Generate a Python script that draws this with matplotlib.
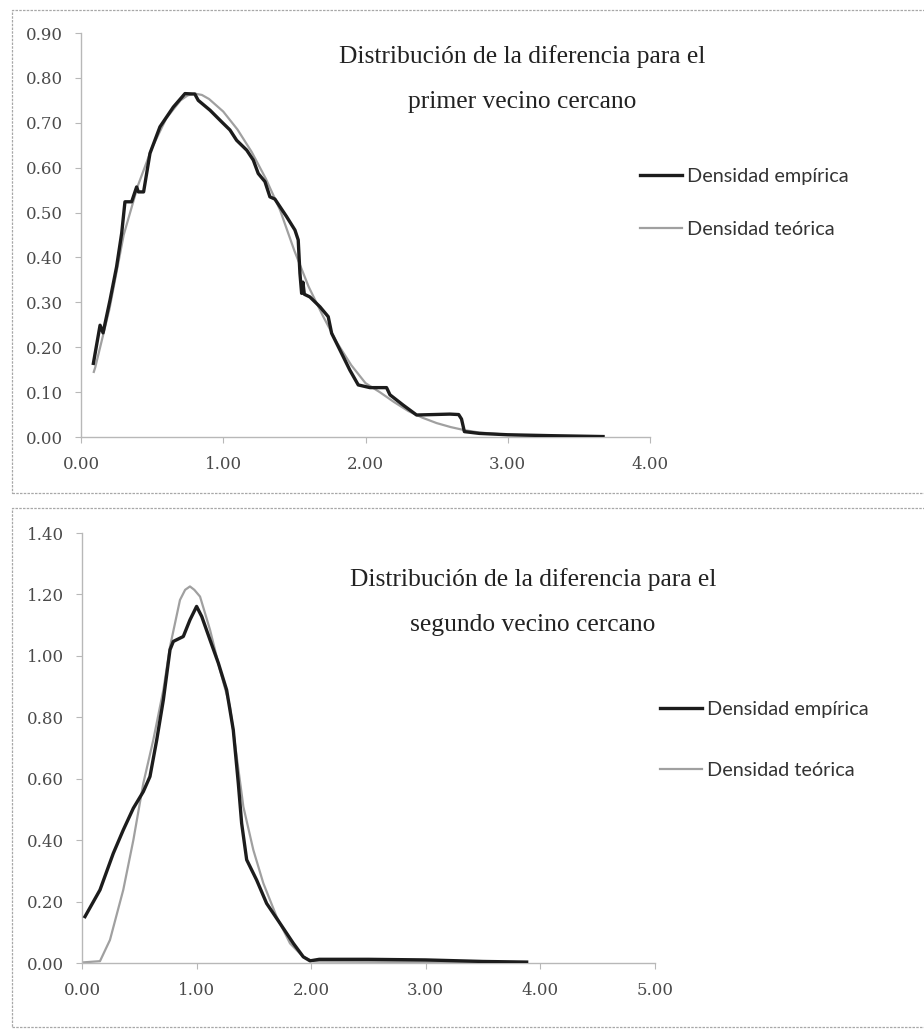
import matplotlib
matplotlib.use("Agg")
import matplotlib.pyplot as plt
from matplotlib.patches import Rectangle

# ---- first nearest neighbour: difference distribution ----
emp1_x = [0.087, 0.134, 0.155, 0.204, 0.250, 0.286, 0.309, 0.356, 0.391, 0.403,
          0.440, 0.485, 0.555, 0.649, 0.731, 0.800, 0.824, 0.907, 0.989, 1.047,
          1.094, 1.165, 1.211, 1.246, 1.293, 1.328, 1.363, 1.445, 1.504, 1.527,
          1.539, 1.551, 1.560, 1.570, 1.609, 1.680, 1.738, 1.762, 1.820, 1.890,
          1.949, 2.031, 2.100, 2.148, 2.172, 2.265, 2.359, 2.477, 2.593, 2.655,
          2.675, 2.695, 2.800, 3.000, 3.300, 3.670]
emp1_y = [0.164, 0.249, 0.232, 0.305, 0.379, 0.454, 0.524, 0.524, 0.557, 0.546,
          0.546, 0.632, 0.691, 0.735, 0.765, 0.764, 0.750, 0.728, 0.702, 0.684,
          0.661, 0.639, 0.617, 0.587, 0.569, 0.535, 0.530, 0.491, 0.461, 0.439,
          0.365, 0.320, 0.345, 0.318, 0.312, 0.290, 0.268, 0.231, 0.194, 0.149,
          0.116, 0.110, 0.110, 0.110, 0.094, 0.071, 0.049, 0.050, 0.051, 0.050,
          0.040, 0.012, 0.008, 0.005, 0.003, 0.001]

teo1_x = [0.09, 0.10, 0.20, 0.30, 0.40, 0.50, 0.60, 0.70, 0.75, 0.80, 0.85,
          0.90, 1.00, 1.10, 1.20, 1.30, 1.40, 1.50, 1.60, 1.70, 1.80, 1.90,
          2.00, 2.10, 2.20, 2.30, 2.40, 2.50, 2.60, 2.70, 2.80, 3.00, 3.30, 3.67]
teo1_y = [0.145, 0.155, 0.285, 0.450, 0.560, 0.645, 0.710, 0.750, 0.761, 0.765,
          0.762, 0.753, 0.725, 0.685, 0.635, 0.575, 0.505, 0.415, 0.335, 0.270,
          0.210, 0.160, 0.120, 0.100, 0.078, 0.058, 0.043, 0.031, 0.022, 0.015,
          0.010, 0.005, 0.002, 0.001]

# ---- second nearest neighbour: difference distribution ----
emp2_x = [0.026, 0.157, 0.273, 0.360, 0.448, 0.535, 0.593, 0.652, 0.710, 0.768,
          0.797, 0.884, 0.942, 1.000, 1.045, 1.117, 1.190, 1.262, 1.320, 1.364,
          1.393, 1.437, 1.524, 1.611, 1.728, 1.844, 1.931, 1.990, 2.070, 2.500,
          3.000, 3.500, 3.880]
emp2_y = [0.151, 0.238, 0.357, 0.433, 0.504, 0.558, 0.607, 0.726, 0.857, 1.020,
          1.047, 1.063, 1.117, 1.161, 1.128, 1.052, 0.976, 0.889, 0.759, 0.585,
          0.455, 0.336, 0.270, 0.194, 0.129, 0.064, 0.020, 0.007, 0.012, 0.012,
          0.010, 0.005, 0.003]

teo2_x = [0.010, 0.157, 0.244, 0.360, 0.448, 0.535, 0.622, 0.710, 0.768, 0.855,
          0.900, 0.942, 0.980, 1.030, 1.117, 1.204, 1.291, 1.350, 1.408, 1.495,
          1.582, 1.698, 1.815, 1.931, 2.020, 2.500, 3.000, 3.880]
teo2_y = [0.002, 0.006, 0.075, 0.238, 0.400, 0.585, 0.726, 0.889, 1.030, 1.182,
          1.215, 1.226, 1.215, 1.193, 1.085, 0.954, 0.835, 0.672, 0.509, 0.368,
          0.260, 0.151, 0.064, 0.020, 0.005, 0.004, 0.003, 0.002]

labels = ["Densidad empírica", "Densidad teórica"]
titles = ["Distribución de la diferencia para el\nprimer vecino cercano",
          "Distribución de la diferencia para el\nsegundo vecino cercano"]
y1_ticks = [0.0, 0.1, 0.2, 0.3, 0.4, 0.5, 0.6, 0.7, 0.8, 0.9]
x1_ticks = [0.0, 1.0, 2.0, 3.0, 4.0]
y2_ticks = [0.0, 0.2, 0.4, 0.6, 0.8, 1.0, 1.2, 1.4]
x2_ticks = [0.0, 1.0, 2.0, 3.0, 4.0, 5.0]

W, H = 924, 1029
fig = plt.figure(figsize=(W / 100, H / 100), dpi=100)
fig.patch.set_facecolor("white")

def fx(px):
    return px / W

def fy(py):
    return 1 - py / H

# chart-area frames
frame_kw = dict(transform=fig.transFigure, fill=False, edgecolor="#a8a8a8",
                linewidth=0.9, linestyle=(0, (2, 1)))
fig.patches.append(Rectangle((fx(12), fy(493)), 1.0, fy(10) - fy(493), **frame_kw))
fig.patches.append(Rectangle((fx(12), fy(1027)), 1.0, fy(508) - fy(1027), **frame_kw))

ax1 = fig.add_axes([fx(81), fy(437), fx(650) - fx(81), fy(33) - fy(437)])
ax2 = fig.add_axes([fx(82), fy(963), fx(655) - fx(82), fy(533) - fy(963)])

EMP_COLOR = "#1c1c1c"
TEO_COLOR = "#a0a0a0"
TICK_FONT = "DejaVu Serif"

def style_axes(ax, xticks, yticks):
    ax.set_facecolor("white")
    for s in ("top", "right"):
        ax.spines[s].set_visible(False)
    for s in ("left", "bottom"):
        ax.spines[s].set_color("#b8b8b8")
        ax.spines[s].set_linewidth(1.0)
    ax.set_xticks(xticks)
    ax.set_yticks(yticks)
    ax.set_xticklabels([f"{v:.2f}" for v in xticks])
    ax.set_yticklabels([f"{v:.2f}" for v in yticks])
    ax.tick_params(axis="both", direction="out", length=4, width=0.8,
                   color="#b8b8b8", labelcolor="#4a4a4a", labelsize=12)
    ax.tick_params(axis="y", pad=9)
    ax.tick_params(axis="x", pad=10)
    for lab in ax.get_xticklabels() + ax.get_yticklabels():
        lab.set_fontfamily(TICK_FONT)

# top chart
ax1.plot(teo1_x, teo1_y, color=TEO_COLOR, linewidth=1.6, label=labels[1], zorder=2)
ax1.plot(emp1_x, emp1_y, color=EMP_COLOR, linewidth=2.4, label=labels[0], zorder=3)
ax1.set_xlim(0, 4)
ax1.set_ylim(0, 0.9)
style_axes(ax1, x1_ticks, y1_ticks)

# bottom chart
ax2.plot(teo2_x, teo2_y, color=TEO_COLOR, linewidth=1.6, label=labels[1], zorder=2)
ax2.plot(emp2_x, emp2_y, color=EMP_COLOR, linewidth=2.4, label=labels[0], zorder=3)
ax2.set_xlim(0, 5)
ax2.set_ylim(0, 1.4)
style_axes(ax2, x2_ticks, y2_ticks)

# titles
title_kw = dict(ha="center", va="center", family="Liberation Serif",
                fontsize=18.4, color="#222222", linespacing=2.35)
fig.text(fx(522), fy(79), titles[0], **title_kw)
fig.text(fx(533), fy(602), titles[1], **title_kw)

# legends
def add_legend(ax, x_px, y_px, spacing):
    h, l = ax.get_legend_handles_labels()
    order = [l.index(labels[0]), l.index(labels[1])]
    leg = ax.legend([h[i] for i in order], [l[i] for i in order],
                    loc="upper left", bbox_to_anchor=(fx(x_px), fy(y_px)),
                    bbox_transform=fig.transFigure, frameon=False,
                    prop={"family": "Lato", "size": 14.3},
                    handlelength=2.1, handletextpad=0.25, labelspacing=spacing,
                    borderpad=0, borderaxespad=0)
    for t in leg.get_texts():
        t.set_color("#333333")
    return leg

add_legend(ax1, 640, 168, 1.8)
add_legend(ax2, 660, 701, 2.2)

fig.savefig("out.png", dpi=100, facecolor="white")
